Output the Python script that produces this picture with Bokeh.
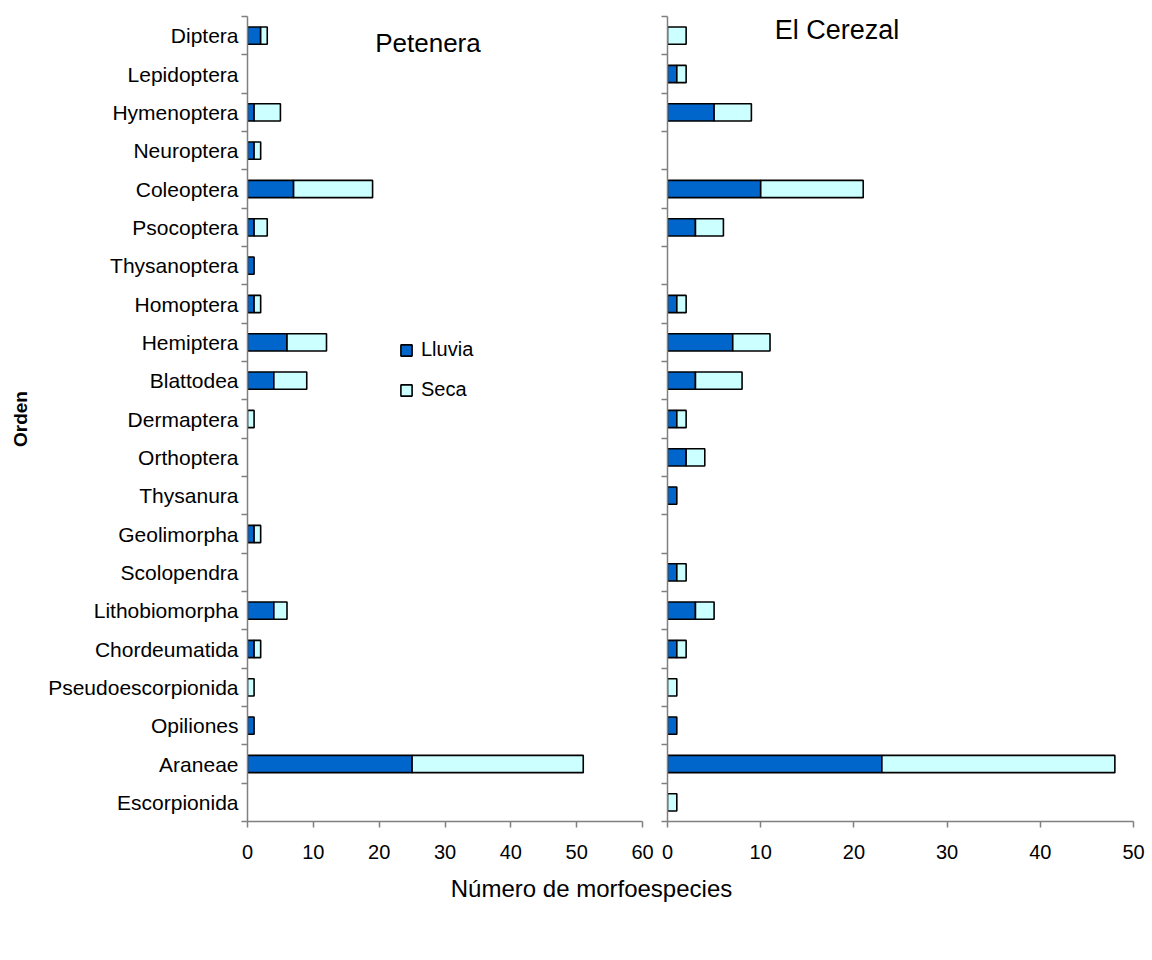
from bokeh.plotting import figure
from bokeh.models import (ColumnDataSource, Range1d, FixedTicker, Label, Legend, LegendItem)
from bokeh.layouts import column, row
from bokeh.embed import file_html
from bokeh.resources import INLINE

# ---------------- data ----------------
categories = ["Diptera", "Lepidoptera", "Hymenoptera", "Neuroptera", "Coleoptera",
              "Psocoptera", "Thysanoptera", "Homoptera", "Hemiptera", "Blattodea",
              "Dermaptera", "Orthoptera", "Thysanura", "Geolimorpha", "Scolopendra",
              "Lithobiomorpha", "Chordeumatida", "Pseudoescorpionida", "Opiliones",
              "Araneae", "Escorpionida"]
petenera_lluvia = [2, 0, 1, 1, 7, 1, 1, 1, 6, 4, 0, 0, 0, 1, 0, 4, 1, 0, 1, 25, 0]
petenera_seca   = [1, 0, 4, 1, 12, 2, 0, 1, 6, 5, 1, 0, 0, 1, 0, 2, 1, 1, 0, 26, 0]
cerezal_lluvia  = [0, 1, 5, 0, 10, 3, 0, 1, 7, 3, 1, 2, 1, 0, 1, 3, 1, 0, 1, 23, 0]
cerezal_seca    = [2, 1, 4, 0, 11, 3, 0, 1, 4, 5, 1, 2, 0, 0, 1, 2, 1, 1, 0, 25, 1]
series_names = ["Lluvia", "Seca"]
panel_titles = ["Petenera", "El Cerezal"]
x_ticks_left = [0, 10, 20, 30, 40, 50, 60]
x_ticks_right = [0, 10, 20, 30, 40, 50]

C_LLUVIA = "#0066CC"
C_SECA = "#CCFFFF"
AXIS_C = "#808080"
FONT = "Liberation Sans"

n = len(categories)
ypos = [n - i - 0.5 for i in range(n)]
boundaries = list(range(n + 1))


def sources(lluvia, seca):
    l = dict(y=[], left=[], right=[])
    s = dict(y=[], left=[], right=[])
    for y, a, b in zip(ypos, lluvia, seca):
        if a > 0:
            l["y"].append(y); l["left"].append(0); l["right"].append(a)
        if b > 0:
            s["y"].append(y); s["left"].append(a); s["right"].append(a + b)
    return ColumnDataSource(l), ColumnDataSource(s)


def make_panel(lluvia, seca, xmax, xticks, width, height, borders, show_labels):
    bl, br, bt, bb = borders
    p = figure(width=width, height=height, output_backend="svg", toolbar_location=None,
               x_range=Range1d(0, xmax), y_range=Range1d(0, n),
               min_border_left=bl, min_border_right=br, min_border_top=bt, min_border_bottom=bb)
    p.outline_line_color = None
    p.xgrid.visible = False
    p.ygrid.visible = False
    src_l, src_s = sources(lluvia, seca)
    r1 = p.hbar(y="y", left="left", right="right", height=0.45, source=src_l,
                fill_color=C_LLUVIA, line_color="black", line_width=1.6)
    r2 = p.hbar(y="y", left="left", right="right", height=0.45, source=src_s,
                fill_color=C_SECA, line_color="black", line_width=1.6)

    # x axis
    xa = p.xaxis[0]
    xa.ticker = FixedTicker(ticks=xticks, minor_ticks=[])
    xa.axis_line_color = AXIS_C
    xa.axis_line_width = 1.5
    xa.major_tick_line_color = AXIS_C
    xa.major_tick_line_width = 1.5
    xa.major_tick_in = 0
    xa.major_tick_out = 6
    xa.minor_tick_line_color = None
    xa.major_label_text_font = FONT
    xa.major_label_text_font_size = "20px"
    xa.major_label_text_color = "black"
    xa.major_label_standoff = 17

    # y axis: ticks at category boundaries, labels at centres
    ya = p.yaxis[0]
    if show_labels:
        ya.ticker = FixedTicker(ticks=ypos, minor_ticks=boundaries)
        ya.major_label_overrides = {y: c for y, c in zip(ypos, categories)}
    else:
        ya.ticker = FixedTicker(ticks=[], minor_ticks=boundaries)
    ya.axis_line_color = AXIS_C
    ya.axis_line_width = 1.5
    ya.major_tick_line_color = None
    ya.major_tick_in = 0
    ya.major_tick_out = 0
    ya.minor_tick_line_color = AXIS_C
    ya.minor_tick_line_width = 1.5
    ya.minor_tick_in = 0
    ya.minor_tick_out = 6
    ya.major_label_text_font = FONT
    ya.major_label_text_font_size = "21px"
    ya.major_label_text_color = "black"
    ya.major_label_standoff = 3
    return p, r1, r2


p1, r1, r2 = make_panel(petenera_lluvia, petenera_seca, 60, x_ticks_left,
                        656, 874, (247, 14, 16, 50), True)
p1.yaxis[0].axis_label = "Orden"
p1.yaxis[0].axis_label_text_font = FONT
p1.yaxis[0].axis_label_text_font_size = "19px"
p1.yaxis[0].axis_label_text_font_style = "bold"
p1.yaxis[0].axis_label_text_color = "black"
p1.yaxis[0].axis_label_standoff = 14

p2, _, _ = make_panel(cerezal_lluvia, cerezal_seca, 50, x_ticks_right,
                      494, 874, (11, 17, 12, 53), False)

p1.add_layout(Label(x=19.4, y=20.3, text=panel_titles[0], text_font=FONT,
                    text_font_size="26px", text_baseline="middle", text_color="black"))
p2.add_layout(Label(x=11.5, y=20.64, text=panel_titles[1], text_font=FONT,
                    text_font_size="27px", text_baseline="middle", text_color="black"))

legend = Legend(items=[LegendItem(label=series_names[0], renderers=[r1]),
                       LegendItem(label=series_names[1], renderers=[r2])],
                location=(152, 420), orientation="vertical",
                glyph_width=14, glyph_height=14, label_standoff=8,
                label_text_font=FONT, label_text_font_size="20px",
                label_text_color="black",
                label_height=23, spacing=17, padding=0, margin=0,
                border_line_color=None, background_fill_alpha=0)
p1.add_layout(legend)

# bottom title strip
p3 = figure(width=1150, height=60, output_backend="svg", toolbar_location=None,
            x_range=Range1d(0, 1150), y_range=Range1d(0, 60),
            min_border=0)
p3.axis.visible = False
p3.grid.visible = False
p3.outline_line_color = None
p3.add_layout(Label(x=591, y=46, text="Número de morfoespecies", text_font=FONT,
                    text_font_size="24px", text_align="center", text_baseline="middle",
                    text_color="black"))

layout = column(row(p1, p2, spacing=0), p3, spacing=0)
open("out.html", "w").write(file_html(layout, INLINE))
